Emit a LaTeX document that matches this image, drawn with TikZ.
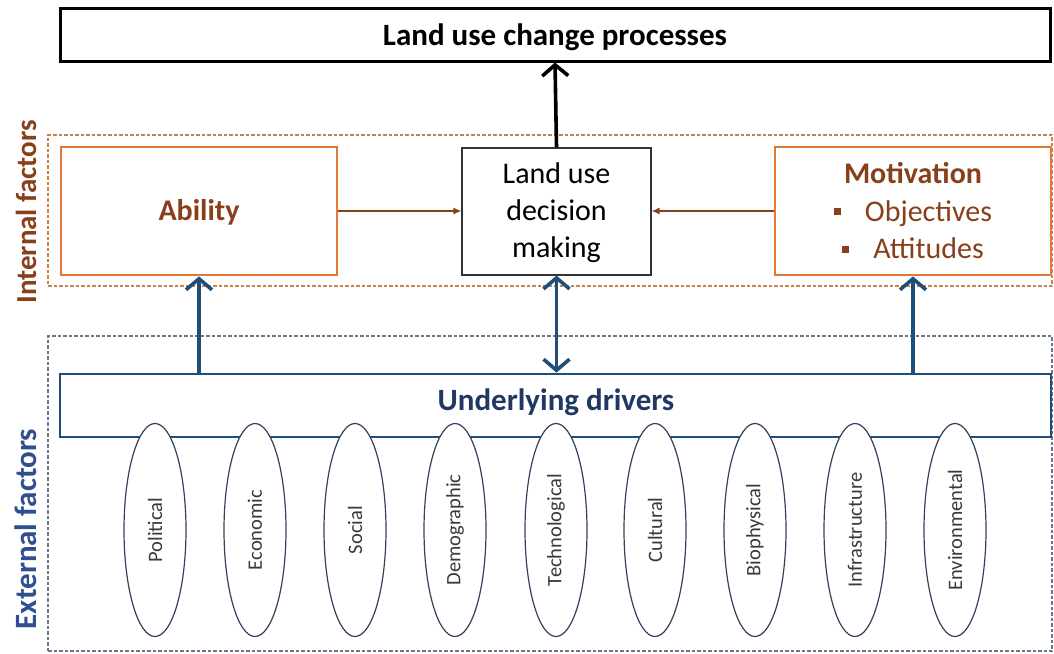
\documentclass[tikz,border=0pt]{standalone}
\usepackage{fontspec}
\setmainfont{Carlito}
\usetikzlibrary{arrows.meta,shapes.geometric}
\definecolor{orng}{HTML}{E07A35}
\definecolor{brwn}{HTML}{87401A}
\definecolor{dblue}{HTML}{1F4E79}
\definecolor{navy}{HTML}{203864}
\definecolor{extblue}{HTML}{2F4F8F}
\definecolor{ellc}{HTML}{34405C}
\definecolor{dashbr}{HTML}{C8824E}
\definecolor{dashbl}{HTML}{6A7590}
\definecolor{lbl}{HTML}{3A3A3A}
\newcommand{\mbul}{{\color{brwn}\rule[6pt]{7pt}{7pt}}\hspace{24pt}}
\tikzset{
  boxshape/.style={draw, rectangle, inner sep=0pt, fill=white},
  topbox/.style={boxshape, line width=3pt, draw=black},
  orbox/.style={boxshape, line width=2.8pt, draw=orng},
  decbox/.style={boxshape, line width=1.1pt, draw=black!80},
  drvbox/.style={boxshape, line width=2.8pt, draw=dblue},
  dashzone/.style={draw, rectangle, inner sep=0pt, line width=1.1pt, dash pattern=on 3.5pt off 2pt},
  elly/.style={draw=ellc, fill=white, ellipse, line width=1.2pt, rotate=90, inner sep=0pt,
               minimum width=213pt, minimum height=62pt, text=lbl, font=\fontsize{20.5}{24}\selectfont},
  bigtxt/.style={anchor=base, inner sep=0pt, font=\fontsize{30}{36}\selectfont},
  sidetxt/.style={anchor=base, inner sep=0pt, rotate=90, font=\bfseries\fontsize{29}{34}\selectfont},
  blarrow/.style={draw=dblue, line width=3.6pt, -{Straight Barb[length=11pt,width=26pt]}},
  bkarrow/.style={draw=black, line width=3.6pt, -{Straight Barb[length=11pt,width=26pt]}},
  brarrow/.style={draw=brwn, line width=1.4pt, -{Latex[length=8pt,width=7pt]}},
}
\begin{document}
\begin{tikzpicture}[x=1pt,y=-1pt]
\useasboundingbox (0,0) rectangle (1054,653);
\fill[white] (0,0) rectangle (1054,653);

% dashed zones
\node[dashzone, draw=dashbr, minimum width=1004pt, minimum height=151pt] (intzone) at (550,210.5) {};
\node[dashzone, draw=dashbl, minimum width=1004pt, minimum height=315pt] (extzone) at (550,493.5) {};

% side labels
\node[sidetxt, text=brwn] (intT) at (36,212) {Internal factors};
\node[sidetxt, text=extblue, font=\bfseries\fontsize{31}{36}\selectfont] (extT) at (36,529) {External factors};

% top box
\node[topbox, minimum width=990pt, minimum height=53pt] (lucp) at (555,34.5) {};
\node[bigtxt, font=\bfseries\fontsize{31}{36}\selectfont] (lucpT) at (555,45) {Land use change processes};

% internal boxes
\node[orbox, minimum width=276pt, minimum height=128pt] (abil) at (199,211) {};
\node[bigtxt, text=brwn, font=\bfseries\fontsize{30}{36}\selectfont] (abilT) at (199,220) {Ability};

\node[decbox, minimum width=189pt, minimum height=127pt] (ludm) at (556.5,211.5) {};
\node[bigtxt] (ludm1) at (556.5,183) {Land use};
\node[bigtxt] (ludm2) at (556.5,220) {decision};
\node[bigtxt] (ludm3) at (556.5,257) {making};

\node[orbox, minimum width=276pt, minimum height=128pt] (motiv) at (913,211) {};
\node[bigtxt, text=brwn, font=\bfseries\fontsize{30}{36}\selectfont] (motiv1) at (913,183) {Motivation};
\node[bigtxt, text=brwn] (motiv2) at (913,221) {\mbul Objectives};
\node[bigtxt, text=brwn] (motiv3) at (913,258.5) {\mbul Attitudes};

% underlying drivers
\node[drvbox, minimum width=991pt, minimum height=63pt] (drivers) at (555.5,405.5) {};
\node[bigtxt, text=navy, font=\bfseries\fontsize{31}{36}\selectfont] (driversT) at (556,410) {Underlying drivers};

% ellipses
\node[elly] (e1) at (155,530) {Political};
\node[elly] (e2) at (255,530) {Economic};
\node[elly] (e3) at (355,530) {Social};
\node[elly] (e4) at (455,530) {Demographic};
\node[elly] (e5) at (556,530) {Technological};
\node[elly] (e6) at (655,530) {Cultural};
\node[elly] (e7) at (755,530) {Biophysical};
\node[elly] (e8) at (855,530) {Infrastructure};
\node[elly] (e9) at (955,530) {Environmental};

% connectors
\draw[bkarrow] (ludm.north) -- (lucp.south);
\draw[blarrow] (drivers.north -| abil.south) -- (abil.south);
\draw[blarrow] (drivers.north -| motiv.south) -- (motiv.south);
\draw[blarrow, {Straight Barb[length=11pt,width=26pt]}-{Straight Barb[length=11pt,width=26pt]}] (ludm.south) -- (drivers.north -| ludm.south);
\draw[brarrow] (abil.east) -- (ludm.west |- abil.east);
\draw[brarrow] (motiv.west) -- (ludm.east |- motiv.west);
\end{tikzpicture}
\end{document}
